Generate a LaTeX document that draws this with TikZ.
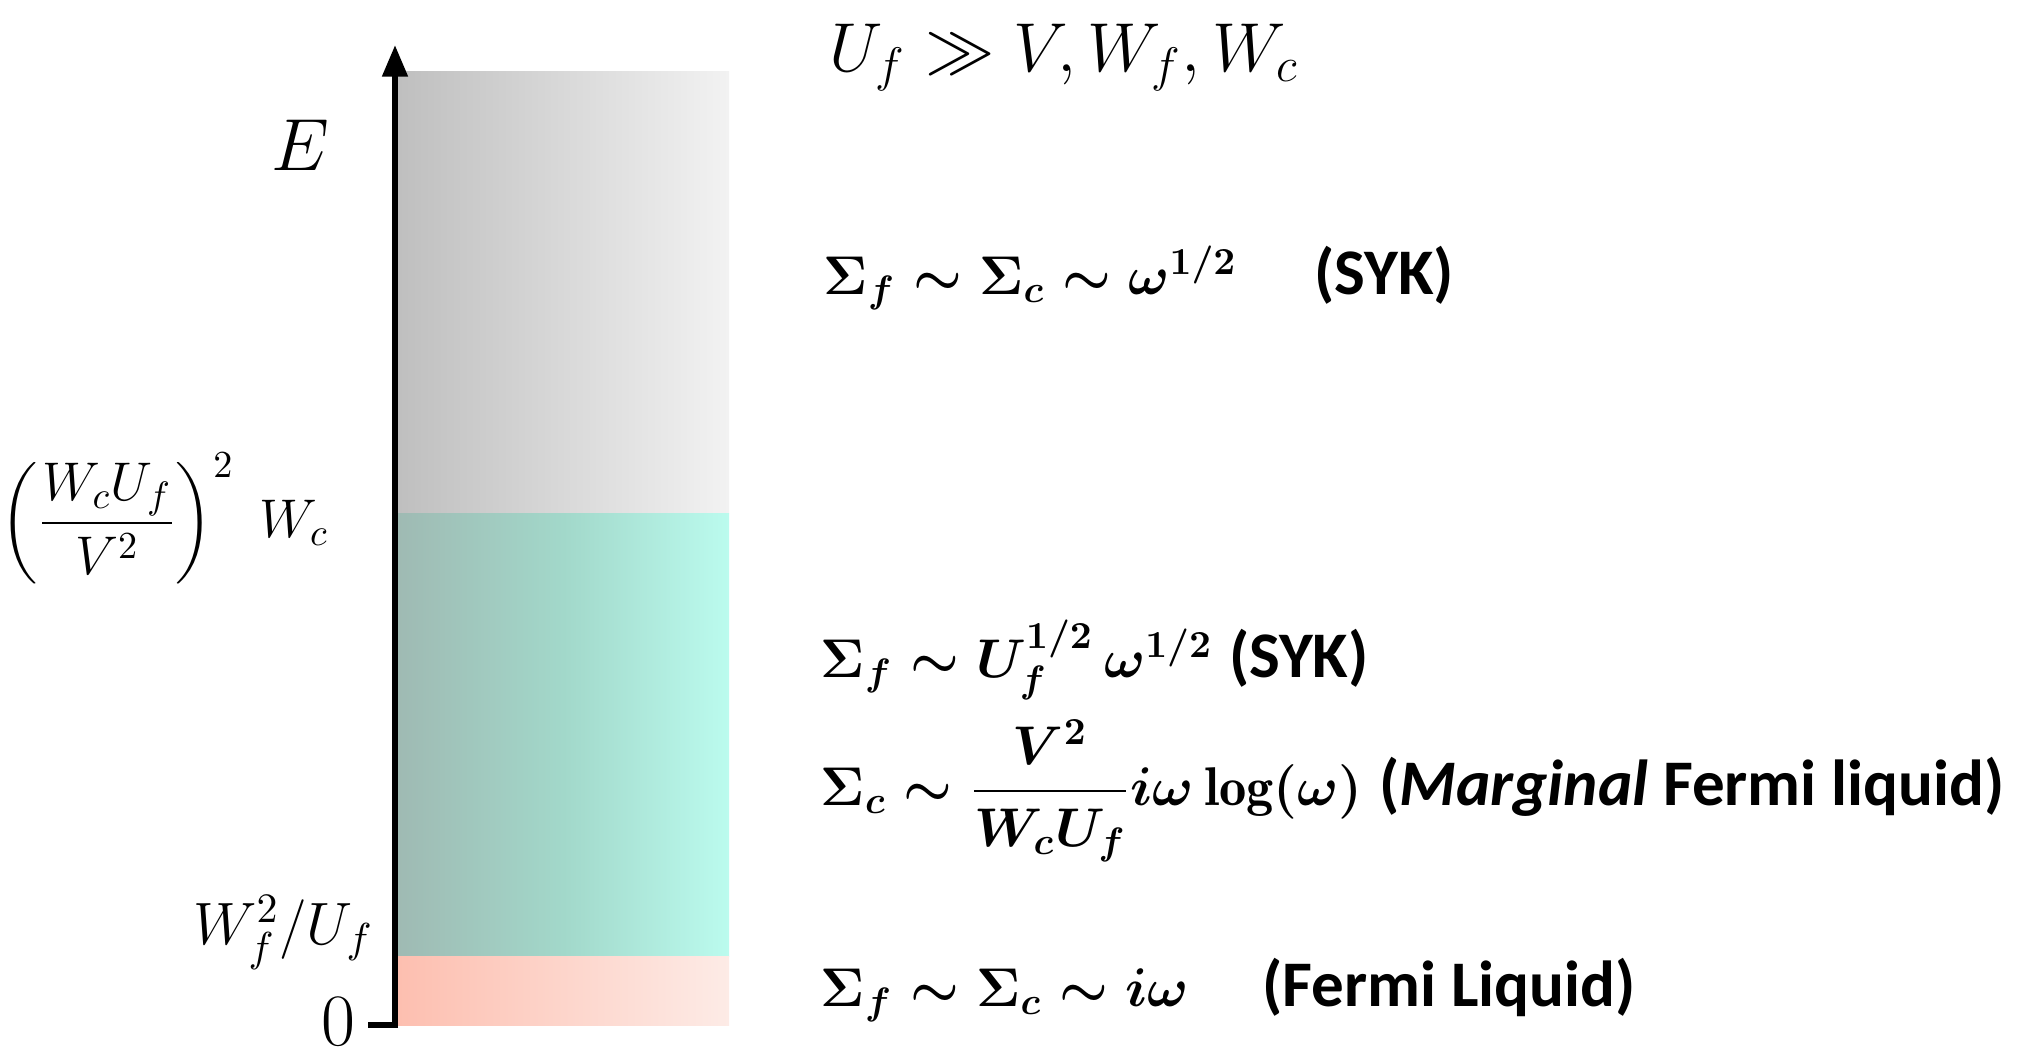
\RequirePackage{fix-cm}
\documentclass[tikz,border=0pt]{standalone}
\usepackage{amsmath}
\usepackage{bm}
\usepackage{fontspec}
\newfontfamily\calibri{Carlito}
\usetikzlibrary{arrows.meta, positioning}
\definecolor{grayL}{RGB}{191,191,191}
\definecolor{grayR}{RGB}{242,242,242}
\definecolor{tealL}{RGB}{159,186,179}
\definecolor{tealM}{RGB}{162,216,202}
\definecolor{tealR}{RGB}{187,251,238}
\definecolor{salmonL}{RGB}{253,191,176}
\definecolor{salmonR}{RGB}{253,235,230}
\newcommand{\regimename}[1]{{\calibri\bfseries\fontsize{18.5}{22}\selectfont #1}}

\begin{document}
\begin{tikzpicture}[x=0.01cm, y=-0.01cm,
    scalelbl/.style={inner sep=0pt, font=\fontsize{17}{20}\selectfont},
    regime/.style={inner sep=0pt, anchor=base west, font=\fontsize{15.5}{18}\selectfont\boldmath}]
  \useasboundingbox (0,0) rectangle (2022,1054);

  % energy bands
  \shade[left color=grayL, right color=grayR] (398,71) rectangle (729,513);
  \shade[left color=tealL, right color=tealR, middle color=tealM] (398,513) rectangle (729,956);
  \shade[left color=salmonL, right color=salmonR] (398,956) rectangle (729,1025);

  % axis
  \coordinate (origin) at (395,1025);
  \coordinate (tick) at (368,1025);
  \coordinate (top) at (395,45);
  \draw[line width=1.7pt, -{Triangle[width=7pt, length=9pt]}] (tick) -- (origin) -- (top);

  % scale labels
  \node[scalelbl, font=\fontsize{21}{25}\selectfont] (energy) at (300,145) {$E$};
  \node[scalelbl, font=\fontsize{15.5}{18}\selectfont, anchor=base east] (wcscale) at (329,537)
    {$\left(\dfrac{W_cU_f}{V^2}\right)^2\ W_c$};
  \node[scalelbl, anchor=base east] (wfscale) at (374,944) {$W_f^2/U_f$};
  \node[scalelbl, font=\fontsize{21}{25}\selectfont] (zero) at (338,1022) {$0$};

  % regimes
  \node[regime, font=\fontsize{19.7}{24}\selectfont] (cond) at (829,71)
    {$U_f \gg V, W_f, W_c$};
  \node[regime] (syk) at (823,294)
    {$\Sigma_f \sim \Sigma_c \sim \omega^{1/2}$\hspace{22pt}\regimename{(SYK)}};
  \node[regime] (sykf) at (820,677)
    {$\Sigma_f \sim U_f^{1/2}\,\omega^{1/2}$ \regimename{(SYK)}};
  \node[regime] (mfl) at (820,805)
    {$\Sigma_c \sim \dfrac{V^2}{W_cU_f} i\omega\log(\omega)$ \regimename{(\itshape Marginal\upshape{} Fermi liquid)}};
  \node[regime] (fl) at (820,1006)
    {$\Sigma_f \sim \Sigma_c \sim i\omega$\hspace{21pt}\regimename{(Fermi Liquid)}};
\end{tikzpicture}
\end{document}
